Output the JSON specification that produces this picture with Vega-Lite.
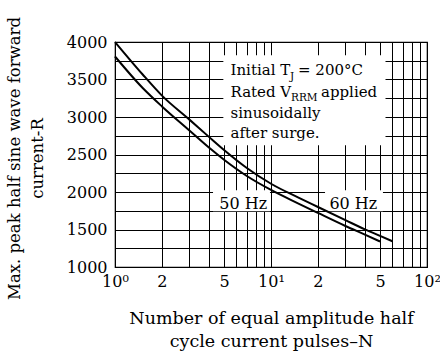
{
  "$schema": "https://vega.github.io/schema/vega-lite/v6.json",
  "width": 312,
  "height": 225,
  "autosize": "none",
  "padding": {"left": 115, "top": 42, "right": 13, "bottom": 89},
  "background": "white",
  "config": {
    "font": "DejaVu Serif",
    "view": {"stroke": "black", "strokeWidth": 1.2},
    "axis": {
      "grid": true,
      "gridColor": "black",
      "gridOpacity": 1,
      "gridWidth": 1,
      "ticks": false,
      "domain": false,
      "tickCount": 100,
      "labelColor": "black",
      "labelFont": "DejaVu Serif",
      "labelFontSize": 16,
      "labelOverlap": false,
      "labelFlush": false,
      "titleColor": "black",
      "titleFont": "DejaVu Serif",
      "titleFontSize": 17,
      "titleFontWeight": "normal"
    }
  },
  "datasets": {
    "curves": [
      {"n": 1, "r": 4000, "curve": "60 Hz"},
      {"n": 1.5, "r": 3570, "curve": "60 Hz"},
      {"n": 2, "r": 3285, "curve": "60 Hz"},
      {"n": 3, "r": 2965, "curve": "60 Hz"},
      {"n": 4, "r": 2735, "curve": "60 Hz"},
      {"n": 5, "r": 2560, "curve": "60 Hz"},
      {"n": 7, "r": 2320, "curve": "60 Hz"},
      {"n": 10, "r": 2110, "curve": "60 Hz"},
      {"n": 15, "r": 1925, "curve": "60 Hz"},
      {"n": 20, "r": 1800, "curve": "60 Hz"},
      {"n": 30, "r": 1625, "curve": "60 Hz"},
      {"n": 40, "r": 1502, "curve": "60 Hz"},
      {"n": 50, "r": 1415, "curve": "60 Hz"},
      {"n": 60, "r": 1343, "curve": "60 Hz"},
      {"n": 1, "r": 3807, "curve": "50 Hz"},
      {"n": 1.5, "r": 3390, "curve": "50 Hz"},
      {"n": 2, "r": 3141, "curve": "50 Hz"},
      {"n": 3, "r": 2820, "curve": "50 Hz"},
      {"n": 4, "r": 2592, "curve": "50 Hz"},
      {"n": 5, "r": 2430, "curve": "50 Hz"},
      {"n": 7, "r": 2213, "curve": "50 Hz"},
      {"n": 10, "r": 2027, "curve": "50 Hz"},
      {"n": 15, "r": 1846, "curve": "50 Hz"},
      {"n": 20, "r": 1721, "curve": "50 Hz"},
      {"n": 30, "r": 1547, "curve": "50 Hz"},
      {"n": 40, "r": 1431, "curve": "50 Hz"},
      {"n": 50, "r": 1340, "curve": "50 Hz"}
    ],
    "boxes": [
      {"n1": 4.95, "n2": 54.2, "r1": 2623, "r2": 3823},
      {"n1": 4.25, "n2": 9.85, "r1": 1743, "r2": 2023},
      {"n1": 22.2, "n2": 52.2, "r1": 1743, "r2": 2023}
    ],
    "notes": [
      {"n": 5.5, "r": 3556, "t": "Initial T"},
      {"n": 14.9, "r": 3556, "t": "= 200°C"},
      {"n": 5.5, "r": 3263, "t": "Rated V"},
      {"n": 20.9, "r": 3263, "t": "applied"},
      {"n": 5.5, "r": 2983, "t": "sinusoidally"},
      {"n": 5.5, "r": 2716, "t": "after surge."}
    ],
    "subs": [
      {"n": 13.24, "r": 3495, "t": "J"},
      {"n": 13.44, "r": 3210, "t": "RRM"}
    ],
    "hz": [
      {"n": 6.64, "r": 1779, "t": "50 Hz"},
      {"n": 33.7, "r": 1779, "t": "60 Hz"}
    ]
  },
  "layer": [
    {
      "data": {"name": "boxes"},
      "mark": {"type": "rect", "fill": "white", "stroke": null},
      "encoding": {
        "x": {
          "field": "n1", "type": "quantitative",
          "scale": {"type": "log", "domain": [1, 100], "nice": false},
          "axis": {
            "values": [1, 2, 3, 4, 5, 6, 7, 8, 9, 10, 20, 30, 40, 50, 60, 70, 80, 90, 100],
            "tickCount": 100,
            "labelExpr": "datum.value == 1 ? '10⁰' : datum.value == 10 ? '10¹' : datum.value == 100 ? '10²' : (datum.value == 2 || datum.value == 20) ? '2' : (datum.value == 5 || datum.value == 50) ? '5' : ''",
            "labelPadding": 6,
            "title": ["Number of equal amplitude half", "cycle current pulses–N"],
            "titlePadding": 20,
            "titleFontSize": 17.5,
            "titleLineHeight": 23
          }
        },
        "x2": {"field": "n2"},
        "y": {
          "field": "r1", "type": "quantitative",
          "scale": {"domain": [1000, 4000], "nice": false, "zero": false},
          "axis": {
            "values": [1000, 1250, 1500, 1750, 2000, 2250, 2500, 2750, 3000, 3250, 3500, 3750, 4000],
            "tickCount": 100,
            "format": "d",
            "labelExpr": "datum.value % 500 === 0 ? datum.label : ''",
            "labelPadding": 8,
            "title": ["Max. peak half sine wave forward", "current-R"],
            "titleFontSize": 16.5,
            "titleLineHeight": 23,
            "titleX": -109,
            "titleY": 116,
            "titleBaseline": "top",
            "titleAngle": -90
          }
        },
        "y2": {"field": "r2"}
      }
    },
    {
      "data": {"name": "curves"},
      "mark": {"type": "line", "color": "black", "strokeWidth": 2, "interpolate": "monotone"},
      "encoding": {
        "x": {"field": "n", "type": "quantitative"},
        "y": {"field": "r", "type": "quantitative"},
        "detail": {"field": "curve"}
      }
    },
    {
      "data": {"name": "notes"},
      "mark": {"type": "text", "align": "left", "baseline": "alphabetic", "fontSize": 15, "color": "black"},
      "encoding": {
        "x": {"field": "n", "type": "quantitative"},
        "y": {"field": "r", "type": "quantitative"},
        "text": {"field": "t"}
      }
    },
    {
      "data": {"name": "subs"},
      "mark": {"type": "text", "align": "left", "baseline": "alphabetic", "fontSize": 10.5, "color": "black"},
      "encoding": {
        "x": {"field": "n", "type": "quantitative"},
        "y": {"field": "r", "type": "quantitative"},
        "text": {"field": "t"}
      }
    },
    {
      "data": {"name": "hz"},
      "mark": {"type": "text", "align": "center", "baseline": "alphabetic", "fontSize": 16, "color": "black"},
      "encoding": {
        "x": {"field": "n", "type": "quantitative"},
        "y": {"field": "r", "type": "quantitative"},
        "text": {"field": "t"}
      }
    }
  ]
}
